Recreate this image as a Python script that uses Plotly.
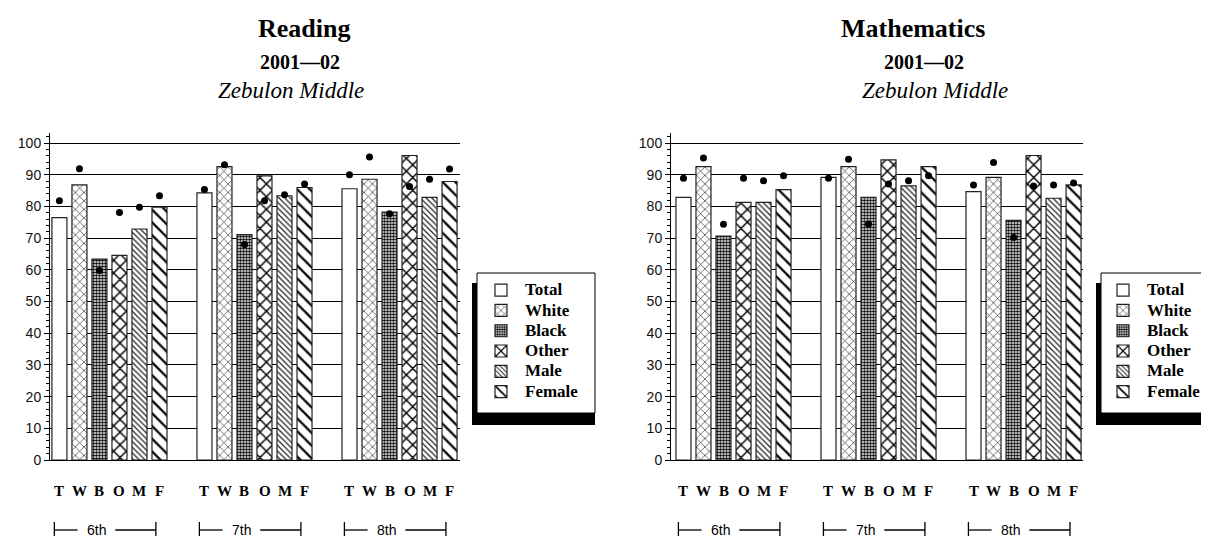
import plotly.graph_objects as go

grades = ["6th", "7th", "8th"]
series = ["Total", "White", "Black", "Other", "Male", "Female"]
letters = ["T", "W", "B", "O", "M", "F"]

# Reading bars
reading_total = [76.5, 84.3, 85.6]
reading_white = [86.8, 92.6, 88.6]
reading_black = [63.4, 71.1, 78.2]
reading_other = [64.6, 89.7, 96.1]
reading_male = [72.9, 83.4, 82.9]
reading_female = [79.8, 86.0, 87.9]
# Reading markers
reading_total_pt = [81.8, 85.4, 90.0]
reading_white_pt = [91.9, 93.2, 95.6]
reading_black_pt = [59.8, 68.0, 77.7]
reading_other_pt = [78.1, 81.8, 86.3]
reading_male_pt = [79.8, 83.7, 88.6]
reading_female_pt = [83.4, 87.1, 91.8]

# Mathematics bars
math_total = [82.9, 89.2, 84.7]
math_white = [92.6, 92.6, 89.2]
math_black = [70.7, 82.9, 75.6]
math_other = [81.3, 94.7, 96.1]
math_male = [81.3, 86.5, 82.6]
math_female = [85.3, 92.6, 86.8]
# Mathematics markers
math_total_pt = [88.9, 88.9, 86.8]
math_white_pt = [95.3, 94.9, 93.9]
math_black_pt = [74.4, 74.5, 70.2]
math_other_pt = [88.9, 87.1, 86.5]
math_male_pt = [88.1, 88.1, 86.8]
math_female_pt = [89.7, 89.7, 87.4]

yticks = list(range(0, 101, 10))

reading_bars = [reading_total, reading_white, reading_black, reading_other, reading_male, reading_female]
reading_pts = [reading_total_pt, reading_white_pt, reading_black_pt, reading_other_pt, reading_male_pt, reading_female_pt]
math_bars = [math_total, math_white, math_black, math_other, math_male, math_female]
math_pts = [math_total_pt, math_white_pt, math_black_pt, math_other_pt, math_male_pt, math_female_pt]

patterns = [
    dict(shape="", fillmode="replace"),
    dict(shape="x", size=6, solidity=0.2, fgcolor="#222", bgcolor="white", fillmode="replace"),
    dict(shape=".", size=3, solidity=0.6, fgcolor="black", bgcolor="white", fillmode="replace"),
    dict(shape="x", size=9, solidity=0.3, fgcolor="black", bgcolor="white", fillmode="replace"),
    dict(shape="\\", size=4, solidity=0.3, fgcolor="#222", bgcolor="white", fillmode="replace"),
    dict(shape="\\", size=9, solidity=0.25, fgcolor="black", bgcolor="white", fillmode="replace"),
]

W, H = 1209, 536
BARGAP = 0.172

fig = go.Figure()

panels = [
    dict(bars=reading_bars, pts=reading_pts, xa="x", ya="y", legend="legend"),
    dict(bars=math_bars, pts=math_pts, xa="x2", ya="y2", legend="legend2"),
]

for p in panels:
    for i, name in enumerate(series):
        fig.add_trace(go.Bar(
            x=grades, y=p["bars"][i], name='<span style="font-size:17px">%s</span>' % name,
            xaxis=p["xa"], yaxis=p["ya"], offsetgroup=name, legend=p["legend"],
            marker=dict(color="white", line=dict(color="#222", width=1.2), pattern=patterns[i]),
        ))
    for i, name in enumerate(series):
        fig.add_trace(go.Scatter(
            x=grades, y=p["pts"][i], mode="markers", xaxis=p["xa"], yaxis=p["ya"],
            offsetgroup=name, showlegend=False,
            marker=dict(color="black", size=7, symbol="circle"),
        ))

def px_x(v):
    return v / W

def px_y(v):
    return 1 - v / H

xdoms = [[px_x(42), px_x(452)], [px_x(663), px_x(1075)]]
xranges = [[-0.41, 2.417], [-0.431, 2.41]]
ydom = [px_y(452), px_y(125)]

axis_common_y = dict(
    range=[0, 103.2], tickvals=yticks, ticks="outside", ticklen=5, tickcolor="black",
    showline=True, linecolor="black", linewidth=1, showgrid=True, gridcolor="black", gridwidth=1,
    zeroline=False, tickfont=dict(family="Liberation Sans, Arial", size=14, color="#111"),
    minor=dict(dtick=2, ticks="outside", ticklen=3, tickcolor="black", showgrid=False),
    domain=ydom,
)
axis_common_x = dict(
    showticklabels=False, ticks="", showline=True, linecolor="black",
    linewidth=1, showgrid=False, zeroline=False, type="category",
)

legend_font = dict(family="Liberation Serif, Times New Roman", size=13.3, color="black", weight="bold")
fig.update_layout(
    width=W, height=H, margin=dict(l=0, r=0, t=0, b=0, autoexpand=False),
    paper_bgcolor="white", plot_bgcolor="white",
    barmode="group", bargap=BARGAP, bargroupgap=0.25,
    scattermode="group", scattergap=BARGAP,
    xaxis=dict(domain=xdoms[0], range=xranges[0], anchor="y", **axis_common_x),
    yaxis=dict(anchor="x", **axis_common_y),
    xaxis2=dict(domain=xdoms[1], range=xranges[1], anchor="y2", **axis_common_x),
    yaxis2=dict(anchor="x2", **axis_common_y),
    legend=dict(x=px_x(469), y=px_y(267), xanchor="left", yanchor="top", bgcolor="rgba(0,0,0,0)",
                borderwidth=0, itemwidth=38, font=legend_font),
    legend2=dict(x=px_x(1091), y=px_y(267), xanchor="left", yanchor="top", bgcolor="rgba(0,0,0,0)",
                 borderwidth=0, itemwidth=38, font=legend_font),
    showlegend=True,
)

annotations = []
shapes = []
title_specs = [
    ("Reading", (296, 292, 283)),
    ("Mathematics", (905, 916, 927)),
]
for (t, (c1, c2, c3)) in title_specs:
    annotations.append(dict(text="<b>%s</b>" % t, x=px_x(c1), y=px_y(20), xref="paper", yref="paper",
                            xanchor="center", yanchor="middle", showarrow=False,
                            font=dict(family="Liberation Serif", size=26, color="black")))
    annotations.append(dict(text="<b>2001\u201402</b>", x=px_x(c2), y=px_y(54), xref="paper", yref="paper",
                            xanchor="center", yanchor="middle", showarrow=False,
                            font=dict(family="Liberation Serif", size=20, color="black")))
    annotations.append(dict(text="<i>Zebulon Middle</i>", x=px_x(c3), y=px_y(83), xref="paper", yref="paper",
                            xanchor="center", yanchor="middle", showarrow=False,
                            font=dict(family="Liberation Serif", size=23, color="black")))

slot = (1 - BARGAP) / 6
YL = 483
YB = 522
for xa in ["x", "x2"]:
    for gi, g in enumerate(grades):
        for k, L in enumerate(letters):
            annotations.append(dict(text="<b>%s</b>" % L, x=gi + (k - 2.5) * slot, y=px_y(YL),
                                    xref=xa, yref="paper", xanchor="center", yanchor="middle",
                                    showarrow=False,
                                    font=dict(family="Liberation Serif", size=15, color="black")))
        annotations.append(dict(text=g, x=gi - 0.09, y=px_y(YB), xref=xa, yref="paper",
                                xanchor="center", yanchor="middle", showarrow=False,
                                font=dict(family="Liberation Sans, Arial", size=14, color="black")))
        yb = px_y(YB)
        dy = 8 / H
        for xx in [gi - 0.38, gi + 0.32]:
            shapes.append(dict(type="line", xref=xa, yref="paper", x0=xx, x1=xx, y0=yb - dy, y1=yb + dy,
                               line=dict(color="black", width=1.3)))
        shapes.append(dict(type="line", xref=xa, yref="paper", x0=gi - 0.38, x1=gi - 0.22, y0=yb, y1=yb,
                           line=dict(color="black", width=1.3)))
        shapes.append(dict(type="line", xref=xa, yref="paper", x0=gi + 0.04, x1=gi + 0.32, y0=yb, y1=yb,
                           line=dict(color="black", width=1.3)))

# legend boxes with drop shadows (shadow first, then white box)
for (bx0, by0, bx1, by1) in [(469, 265, 587, 405), (1093, 265, 1215, 405)]:
    shapes.append(dict(type="rect", xref="paper", yref="paper", x0=px_x(bx0 - 5), x1=px_x(bx1),
                       y0=px_y(by1 + 12), y1=px_y(by0 + 10), fillcolor="black", line=dict(width=0)))
    shapes.append(dict(type="rect", xref="paper", yref="paper", x0=px_x(bx0), x1=px_x(bx1),
                       y0=px_y(by1), y1=px_y(by0), fillcolor="white", line=dict(color="black", width=1)))

fig.update_layout(annotations=annotations, shapes=shapes)
fig.write_html("out.html")
